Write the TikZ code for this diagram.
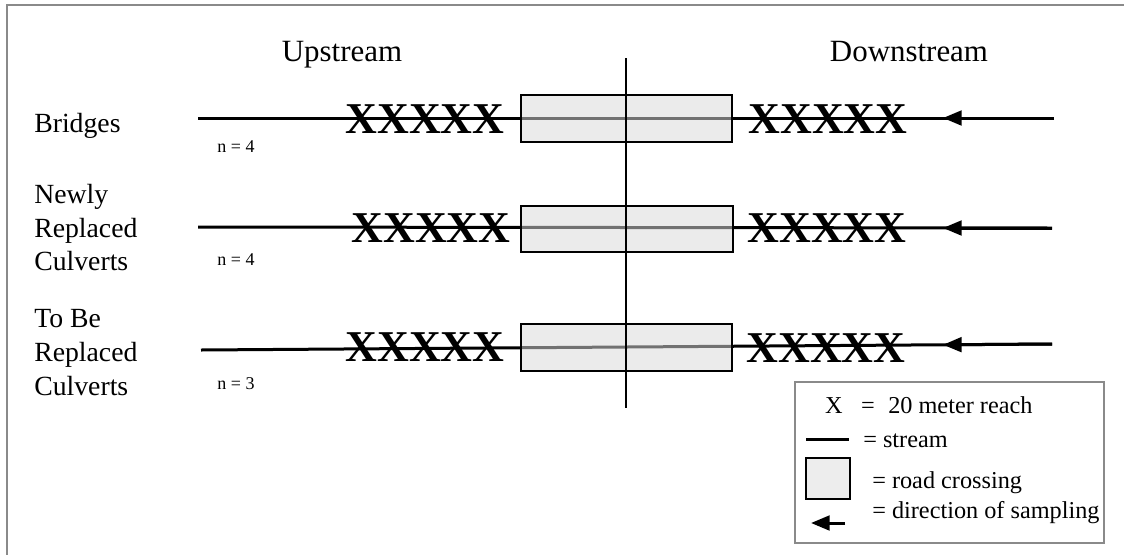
\documentclass[tikz,border=0pt]{standalone}
\usepackage{fontspec}
\setmainfont{Liberation Serif}
\usetikzlibrary{arrows.meta}
\definecolor{framegray}{HTML}{8A8A8A}
\begin{document}
\begin{tikzpicture}[x=0.75pt,y=-0.75pt,
  hdr/.style={font=\fontsize{23.2}{28}\selectfont, inner sep=0, anchor=base},
  lab/.style={font=\fontsize{20.8}{25}\selectfont, inner sep=0, anchor=base west},
  nlab/.style={font=\fontsize{13.5}{16}\selectfont, inner sep=0, anchor=base},
  xs/.style={font=\bfseries\fontsize{33}{38}\selectfont, inner sep=0},
  leg/.style={font=\fontsize{18.2}{22}\selectfont, inner sep=0, anchor=base west},
  stream/.style={line width=2.25pt},
  dirarrow/.style={line width=2.25pt, -{Triangle[length=14pt,width=11pt]}},
  crossing/.style={draw=black, line width=0.8pt, fill=black!15, fill opacity=0.52},
]
\useasboundingbox (0,0) rectangle (1124,554);
\fill[white] (0,0) rectangle (1124,554);
% frame
\draw[framegray, line width=1.5pt] (7,560) -- (7,5) -- (1130,5);

% headers
\node[hdr] (up) at (342,61) {Upstream};
\node[hdr] (down) at (909,61) {Downstream};

% row labels
\node[lab] (l1) at (34,132) {Bridges};
\node[lab] (l2a) at (34,203) {Newly};
\node[lab] (l2b) at (34,237) {Replaced};
\node[lab] (l2c) at (34,270) {Culverts};
\node[lab] (l3a) at (34,327) {To Be};
\node[lab] (l3b) at (34,361) {Replaced};
\node[lab] (l3c) at (34,395) {Culverts};

\node[nlab] (n1) at (236,152) {n = 4};
\node[nlab] (n2) at (236,265) {n = 4};
\node[nlab] (n3) at (236,389) {n = 3};

% streams
\coordinate (s1a) at (198,118); \coordinate (s1b) at (1054,118); \coordinate (t1) at (943,118);
\coordinate (s2a) at (198,227); \coordinate (s2b) at (1052,228); \coordinate (t2) at (943,228);
\coordinate (s3a) at (201,350); \coordinate (s3b) at (1052,344); \coordinate (t3) at (943,344.8);
\draw[stream] (s1a) -- (s1b);
\draw[stream] (s2a) -- (s2b);
\draw[stream] (s3a) -- (s3b);
\draw[dirarrow] (s1b) -- (t1);
\draw[dirarrow] (s2b) -- (t2);
\draw[dirarrow] (s3b) -- (t3);

% road crossings
\draw[crossing] (521,95) rectangle (732,142);
\draw[crossing] (521,206) rectangle (733,252);
\draw[crossing] (521,324) rectangle (732,371);

% reaches
\node[xs] (x1l) at (425,119) {XXXXX};
\node[xs] (x1r) at (828,119) {XXXXX};
\node[xs] (x2l) at (431,228) {XXXXX};
\node[xs] (x2r) at (827,228) {XXXXX};
\node[xs] (x3l) at (425,347) {XXXXX};
\node[xs] (x3r) at (826,348) {XXXXX};

% dividing line
\coordinate (vtop) at (626,58); \coordinate (vbot) at (626,408);
\draw[line width=1.5pt] (vtop) -- (vbot);

% legend
\draw[framegray, line width=1.1pt, fill=white] (795,382) rectangle (1104,543);
\node[leg, anchor=base] (lx) at (834,413) {X};
\node[leg, anchor=base] (leq) at (868,413) {=};
\node[leg] (lreach) at (888,413) {20 meter reach};
\coordinate (lsa) at (806,439); \coordinate (lsb) at (849,439);
\draw[stream] (lsa) -- (lsb);
\node[leg] (lstream) at (863,447) {= stream};
\draw[draw=black, line width=0.8pt, fill=black!7] (806,458) rectangle (850,499);
\node[leg] (lroad) at (872,488) {= road crossing};
\coordinate (laa) at (845,523); \coordinate (lab) at (811,523);
\draw[dirarrow] (laa) -- (lab);
\node[leg] (ldir) at (872,518) {= direction of sampling};
\end{tikzpicture}
\end{document}
